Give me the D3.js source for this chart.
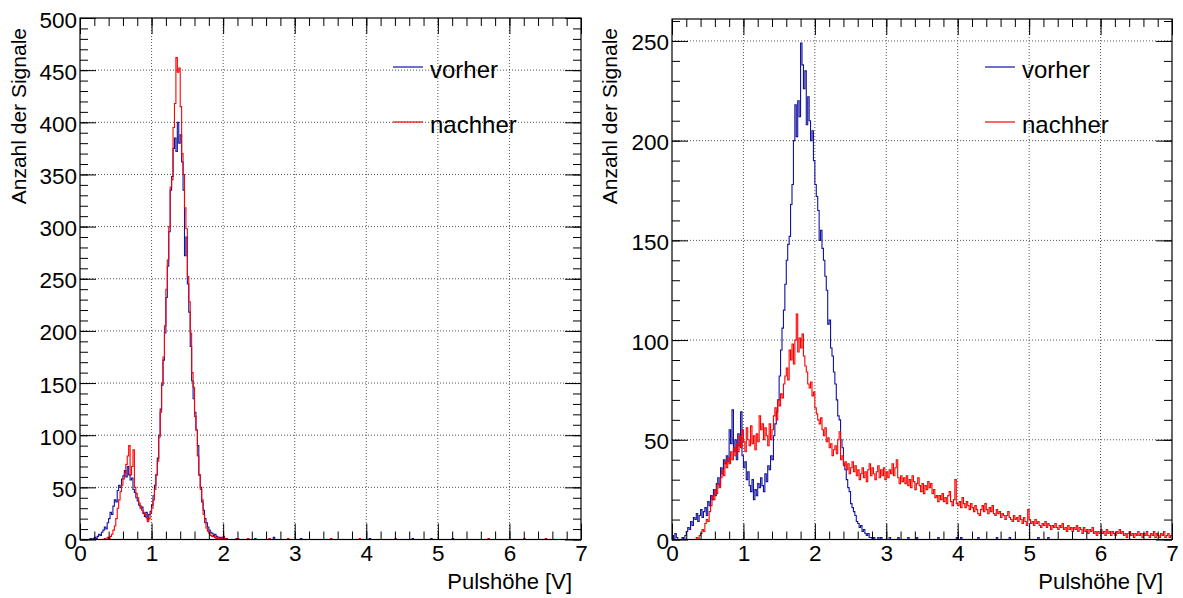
<!DOCTYPE html>
<html><head><meta charset="utf-8">
<script src="https://cdn.jsdelivr.net/npm/d3@7"></script>
<style>
body{margin:0;background:#fff;}
svg text{font-family:"Liberation Sans",Arial,Helvetica,sans-serif;fill:#000;}
</style>
</head><body>
<svg id="chart" width="1183" height="598"></svg>
<script>
// ---------- data ----------
const binWidth = 0.02;            // V per bin, bins from 0 to 7 V
const xTickLabels = [0,1,2,3,4,5,6,7];
const leftYTicks = [0,50,100,150,200,250,300,350,400,450,500];
const rightYTicks = [0,50,100,150,200,250];
const seriesNames = ["vorher","nachher"];
const xTitle = "Pulshöhe [V]";
const yTitle = "Anzahl der Signale";

const leftVorher = [
0,0,0,0,0,0,0,1,0,1,
2,1,3,5,4,7,9,12,10,16,
20,26,24,32,38,36,47,52,50,58,
61,66,60,70,62,57,59,48,45,40,
37,33,30,31,25,22,26,19,24,27,
33,42,52,62,78,100,125,148,172,198,
232,262,295,335,348,375,385,372,400,380,
388,362,335,272,290,245,218,185,152,135,
122,105,90,62,50,36,28,20,16,12,
9,7,6,4,5,3,2,2,1,2,
1,0,1,0,0,0,0,0,0,1,
0,0,0,0,0,0,0,0,0,0,
0,0,1,0,0,0,0,0,0,0,
0,0,0,0,0,2,0,0,0,0,
0,0,0,0,0,0,0,0,0,0,
0,0,0,0,1,0,0,0,0,0,
0,0,0,0,0,0,0,0,0,0,
0,0,0,0,0,0,0,0,0,0,
0,0,0,0,0,0,0,0,0,0,
0,0,0,0,0,0,0,0,0,0,
0,0,1,0,0,0,0,0,0,0,
0,0,0,0,0,0,0,0,0,0,
0,0,0,0,0,0,0,0,0,0,
0,0,1,0,0,0,0,0,0,0,
0,0,0,0,0,1,0,0,0,0,
0,0,0,0,0,0,0,0,0,0,
1,0,0,0,0,0,0,0,0,0,
0,0,0,0,0,0,0,0,0,0,
0,0,0,0,0,0,0,0,0,0,
0,0,0,0,0,0,0,0,0,0,
0,0,0,0,0,0,0,0,0,0,
0,0,0,0,0,0,0,0,0,0,
0,0,0,0,0,0,0,0,0,0,
0,0,0,0,0,0,0,0,0,0,
0,0,0,0,0,0,0,0,0,0
];

const leftNachher = [
0,0,0,0,0,0,0,0,0,0,
0,0,0,0,0,0,0,1,0,2,
1,3,5,9,13,20,30,38,46,52,
58,64,72,80,90,62,70,86,50,44,
40,35,32,28,26,24,21,17,20,25,
30,38,48,62,75,98,122,150,175,205,
240,268,300,338,345,395,418,462,448,452,
415,370,350,318,298,252,228,198,160,146,
118,105,80,62,48,38,24,16,11,8,
6,4,3,3,2,1,2,1,0,1,
3,1,0,0,0,0,0,0,0,0,
1,0,0,0,0,0,0,1,0,0,
0,0,0,0,0,0,0,0,0,0,
0,0,1,0,0,0,0,0,0,0,
0,0,0,0,0,1,0,0,0,0,
0,0,0,0,0,0,0,0,0,0,
0,0,0,0,0,0,0,0,0,0,
0,0,0,0,0,1,0,0,0,0,
0,0,0,0,0,0,0,0,0,0,
0,0,0,0,0,1,0,0,0,0,
0,0,0,0,0,0,0,0,0,0,
0,0,0,0,0,0,0,0,0,0,
1,0,0,0,0,0,0,0,0,0,
0,0,0,0,0,0,0,0,0,0,
0,0,0,0,0,0,0,0,0,0,
0,0,0,0,0,0,0,0,0,0,
0,0,0,0,0,0,0,0,0,0,
0,0,0,0,0,0,0,0,0,0,
0,0,0,0,0,1,0,0,0,0,
0,0,0,0,0,0,0,0,0,0,
0,0,0,0,0,0,0,0,0,0,
1,0,0,0,0,0,0,0,0,0,
0,0,0,0,0,1,0,0,0,0,
0,0,0,0,0,0,0,0,0,0,
0,0,0,0,0,0,0,0,0,0
];

const rightVorher = [
2,0,3,1,0,0,0,1,0,2,
4,6,5,9,7,11,10,13,9,12,
15,11,14,16,12,19,17,22,20,25,
22,28,31,27,36,33,40,38,42,39,
55,48,65,44,50,40,53,47,64,42,
36,39,30,34,27,24,30,20,25,22,
28,26,31,27,24,33,29,37,35,42,
40,52,58,64,70,82,95,106,115,128,
140,148,152,168,178,200,218,202,220,212,
249,238,226,235,208,222,210,200,205,190,
178,172,165,150,155,146,140,132,125,108,
110,96,92,84,78,70,62,60,50,46,
38,35,30,26,24,18,16,14,12,9,
8,6,7,4,5,3,2,3,1,1,
0,1,0,0,1,0,1,0,0,0,
0,0,1,0,0,0,0,0,1,0,
0,0,0,0,0,1,0,0,0,0,
0,1,0,0,0,0,0,0,0,0,
0,0,0,0,0,0,1,0,0,0,
0,0,0,0,0,0,0,0,0,1,
0,0,1,0,0,0,0,0,0,0,
0,0,0,0,1,0,0,0,0,0,
0,0,0,0,0,0,0,1,0,0,
0,0,0,0,0,0,1,0,0,0,
0,0,0,0,0,0,0,0,0,0,
0,0,0,0,0,0,1,0,0,0,
0,0,0,1,0,0,0,0,0,0,
0,0,0,0,0,0,0,0,0,0,
0,0,0,0,0,0,0,0,0,0,
0,0,0,0,0,0,0,0,0,0,
0,0,0,0,0,0,0,0,0,0,
0,0,0,0,0,0,0,0,0,0,
0,0,0,0,0,0,0,0,0,0,
0,0,0,0,0,0,0,0,0,0,
0,0,0,0,0,0,0,0,0,0
];

const rightNachher = [
0,0,0,0,0,0,0,0,0,0,
0,0,0,0,0,0,0,1,0,2,
3,5,4,8,10,9,14,17,22,20,
25,23,28,26,31,35,32,39,36,41,
38,44,40,46,42,48,44,52,46,55,
49,44,56,50,47,57,48,52,45,53,
49,62,55,58,50,56,52,47,58,50,
55,62,66,60,70,67,73,71,78,82,
86,80,95,90,98,88,100,113,94,101,
96,103,92,87,84,78,76,79,72,74,
66,63,60,58,61,55,52,56,49,51,
46,48,42,45,47,43,50,54,40,42,
37,39,35,38,33,36,39,34,37,32,
35,30,33,36,31,34,29,35,38,32,
36,33,30,34,37,31,35,32,36,30,
34,31,35,33,38,32,36,40,31,28,
32,29,31,28,32,27,30,26,32,29,
25,28,31,27,24,28,23,27,25,29,
26,28,23,25,21,22,19,22,20,23,
19,21,18,22,24,19,17,20,30,18,
17,19,16,21,18,16,19,17,15,18,
16,14,17,15,13,12,15,17,14,18,
15,13,16,14,17,13,12,15,13,14,
11,13,12,10,12,14,11,10,9,12,
10,11,9,12,10,8,11,9,7,15,
10,8,9,7,10,8,9,7,6,8,
7,9,6,8,7,5,7,6,8,6,
5,7,6,8,5,6,4,7,5,6,
4,6,5,7,4,6,5,3,6,4,
5,3,5,4,6,3,4,2,4,3,
5,3,4,2,5,3,4,2,4,3,
2,4,3,5,3,4,2,3,1,3,
4,2,3,1,3,2,4,2,3,1,
3,2,4,2,1,3,2,4,1,3,
2,1,3,2,4,1,2,3,1,2
];

// ---------- drawing ----------
const colors = ["#12129e", "#ff0000"];
const svg = d3.select("#chart");

function drawPanel(cfg){
  const {x0,x1,y0,y1,ymax,yTicks,series,legendX,yTitleX,id} = cfg;
  const x = d3.scaleLinear().domain([0,7]).range([x0,x1]);
  const y = d3.scaleLinear().domain([0,ymax]).range([y1,y0]);
  const g = svg.append("g");

  const xMinor = d3.range(0, 7.0001, 0.2).map(v=>+v.toFixed(2));
  const yMinor = d3.range(0, ymax+0.001, 10);

  // grid
  g.append("g").selectAll("line").data(xTickLabels.filter(v=>v>0&&v<7)).join("line")
    .attr("x1",d=>x(d)).attr("x2",d=>x(d)).attr("y1",y0).attr("y2",y1)
    .attr("stroke","#555").attr("stroke-width",1).attr("stroke-dasharray","1,2");
  g.append("g").selectAll("line").data(yTicks.filter(v=>v>0&&v<ymax)).join("line")
    .attr("x1",x0).attr("x2",x1).attr("y1",d=>y(d)).attr("y2",d=>y(d))
    .attr("stroke","#555").attr("stroke-width",1).attr("stroke-dasharray","1,2");

  // histograms
  const clipId = "clip"+id;
  svg.append("clipPath").attr("id",clipId).append("rect")
    .attr("x",x0).attr("y",y0).attr("width",x1-x0).attr("height",y1-y0);
  const line = d3.line().x(d=>x(d[0])).y(d=>y(d[1])).curve(d3.curveStepAfter);
  series.forEach((vals,k)=>{
    const pts = vals.map((v,i)=>[i*binWidth, v]);
    pts.push([vals.length*binWidth, vals[vals.length-1]]);
    g.append("path").attr("d", line(pts)).attr("fill","none")
      .attr("stroke", colors[k]).attr("stroke-width",1.1)
      .attr("clip-path",`url(#${clipId})`);
  });

  // axes (ticks inside frame)
  const styleAxis = sel => { sel.select(".domain").remove(); sel.selectAll("line").attr("stroke","#000"); };
  g.append("g").attr("transform",`translate(0,${y1})`)
    .call(d3.axisBottom(x).tickValues(xMinor).tickSize(-8).tickFormat("")).call(styleAxis);
  const bx = g.append("g").attr("transform",`translate(0,${y1})`)
    .call(d3.axisBottom(x).tickValues(xTickLabels).tickSize(-16).tickPadding(6).tickFormat(d3.format("d")));
  styleAxis(bx);
  bx.selectAll("text").attr("font-size",22.5).attr("font-family","Liberation Sans, Arial, sans-serif");
  g.append("g").attr("transform",`translate(0,${y0})`)
    .call(d3.axisTop(x).tickValues(xMinor).tickSize(-8).tickFormat("")).call(styleAxis);
  g.append("g").attr("transform",`translate(0,${y0})`)
    .call(d3.axisTop(x).tickValues(xTickLabels).tickSize(-16).tickFormat("")).call(styleAxis);

  g.append("g").attr("transform",`translate(${x0},0)`)
    .call(d3.axisLeft(y).tickValues(yMinor).tickSize(-8).tickFormat("")).call(styleAxis);
  const ly = g.append("g").attr("transform",`translate(${x0},0)`)
    .call(d3.axisLeft(y).tickValues(yTicks).tickSize(-16).tickPadding(3).tickFormat(d3.format("d")));
  styleAxis(ly);
  ly.selectAll("text").attr("font-size",22.5).attr("dy","0.4em").attr("font-family","Liberation Sans, Arial, sans-serif");
  g.append("g").attr("transform",`translate(${x1},0)`)
    .call(d3.axisRight(y).tickValues(yMinor).tickSize(-8).tickFormat("")).call(styleAxis);
  g.append("g").attr("transform",`translate(${x1},0)`)
    .call(d3.axisRight(y).tickValues(yTicks).tickSize(-16).tickFormat("")).call(styleAxis);

  // frame
  g.append("rect").attr("x",x0).attr("y",y0).attr("width",x1-x0).attr("height",y1-y0)
    .attr("fill","none").attr("stroke","#000").attr("stroke-width",1.2);

  // titles
  g.append("text").attr("x",x1-9).attr("y",589).attr("text-anchor","end")
    .attr("font-size",22).text(xTitle);
  g.append("text").attr("transform",`translate(${yTitleX},28) rotate(-90)`)
    .attr("text-anchor","end").attr("font-size",21).text(yTitle);

  // legend
  const ly0 = [67,122];
  seriesNames.forEach((name,k)=>{
    g.append("line").attr("x1",legendX).attr("x2",legendX+30)
      .attr("y1",ly0[k]).attr("y2",ly0[k]).attr("stroke",colors[k]).attr("stroke-width",1.2);
    g.append("text").attr("x",legendX+37).attr("y",ly0[k]+11)
      .attr("font-size",24).text(name);
  });
}

drawPanel({id:"L",x0:80,x1:581,y0:18,y1:539.5,ymax:500,yTicks:leftYTicks,
  series:[leftVorher,leftNachher],legendX:393,yTitleX:26});
drawPanel({id:"R",x0:672,x1:1172,y0:19,y1:539.5,ymax:261,yTicks:rightYTicks,
  series:[rightVorher,rightNachher],legendX:985,yTitleX:617});
</script>
</body></html>
